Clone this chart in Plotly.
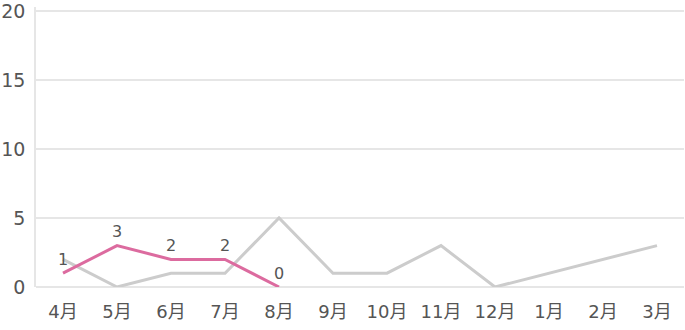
import plotly.graph_objects as go

months = ["4月", "5月", "6月", "7月", "8月", "9月", "10月", "11月", "12月", "1月", "2月", "3月"]
prev_year = [2, 0, 1, 1, 5, 1, 1, 3, 0, 1, 2, 3]
this_year = [1, 3, 2, 2, 0]
y_ticks = [0, 5, 10, 15, 20]

FONT = "DejaVu Sans, Noto Sans CJK JP, sans-serif"

fig = go.Figure()
fig.add_trace(go.Scatter(
    x=months, y=prev_year, mode="lines",
    line=dict(color="#cccccc", width=3),
    cliponaxis=False, hoverinfo="skip",
))
fig.add_trace(go.Scatter(
    x=months[:len(this_year)], y=this_year, mode="lines",
    line=dict(color="#dc6b9f", width=3),
    cliponaxis=False, hoverinfo="skip",
))
for m, v in zip(months, this_year):
    fig.add_annotation(
        x=m, y=v, text=str(v), showarrow=False,
        xanchor="center", yanchor="middle", yshift=14,
        font=dict(family=FONT, size=16, color="#555555"),
    )

fig.update_layout(
    width=685, height=330,
    margin=dict(l=36, r=1, t=7, b=43),
    paper_bgcolor="white", plot_bgcolor="white",
    showlegend=False,
    font=dict(family=FONT, color="#555555", size=16),
    xaxis=dict(
        type="category", categoryorder="array", categoryarray=months,
        range=[-0.5, len(months) - 0.5], automargin=False,
        showgrid=False, zeroline=False, showline=False,
        ticks="", ticklabelstandoff=12, ticklabeloverflow="allow",
        tickfont=dict(size=18, color="#555555"),
    ),
    yaxis=dict(
        range=[0, 20.29], tickvals=y_ticks, ticktext=[str(v) for v in y_ticks],
        automargin=False, ticklabeloverflow="allow",
        showgrid=True, gridcolor="#e6e6e6", gridwidth=1.5,
        zeroline=True, zerolinecolor="#e6e6e6", zerolinewidth=1.5,
        showline=True, linecolor="#e6e6e6", linewidth=1.5,
        ticks="", ticklabelstandoff=5,
        tickfont=dict(size=19, color="#555555"),
    ),
)

fig.write_html("out.html")
